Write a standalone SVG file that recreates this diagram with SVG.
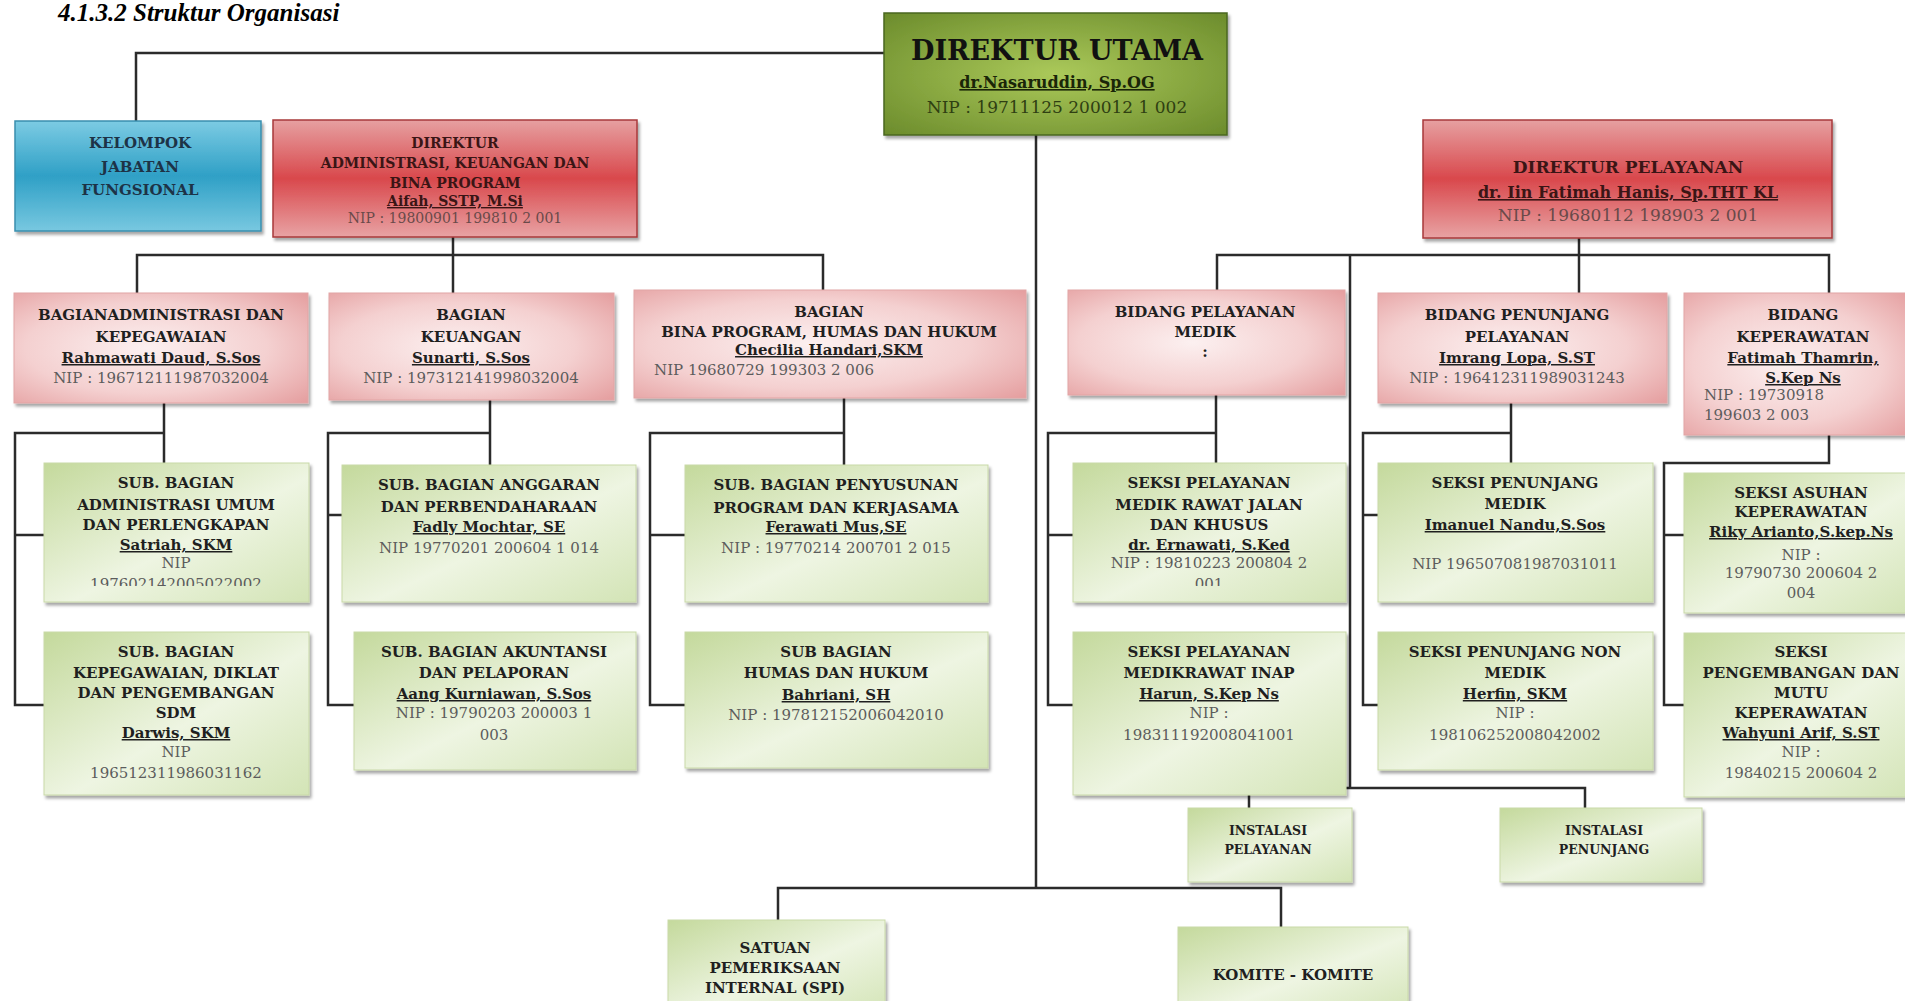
<svg xmlns="http://www.w3.org/2000/svg" width="1905" height="1001" viewBox="0 0 1905 1001">
<defs>
<style>
.t{font-family:"DejaVu Serif",serif;font-weight:bold;font-size:15px;fill:#1f1f1f;text-anchor:middle}
.u{text-decoration:underline}
.nip{font-family:"DejaVu Serif",serif;font-size:15px;fill:#5c5c5c;text-anchor:middle}
.l{text-anchor:start}
.sm{font-size:12.5px}
.ln{fill:none;stroke:#2b2b2b;stroke-width:2.5}
.blue{fill:url(#gBlue);stroke:#3a8fae;stroke-width:1.5}
.red{fill:url(#gRed);stroke:#a8383b;stroke-width:1.5}
.pink{fill:url(#gPink);stroke:#e2a5a5;stroke-width:1}
.green{fill:url(#gGreen);stroke:#c9d9a8;stroke-width:1}
.utama{fill:url(#gUtama);stroke:#4a6720;stroke-width:1.5}
</style>
<filter id="sh" x="-5%" y="-5%" width="112%" height="120%">
<feDropShadow dx="2" dy="3" stdDeviation="1.5" flood-color="#000" flood-opacity="0.35"/>
</filter>
<linearGradient id="gBlue" x1="0" y1="0" x2="0" y2="1">
<stop offset="0" stop-color="#7ccbe3"/><stop offset="0.5" stop-color="#2fa0c6"/><stop offset="1" stop-color="#78c8e0"/>
</linearGradient>
<linearGradient id="gRed" x1="0" y1="0" x2="0" y2="1">
<stop offset="0" stop-color="#e6a0a1"/><stop offset="0.5" stop-color="#d9484c"/><stop offset="1" stop-color="#e8a3a4"/>
</linearGradient>
<radialGradient id="gPink" cx="0.45" cy="0.5" r="0.75">
<stop offset="0" stop-color="#fcf0f0"/><stop offset="0.55" stop-color="#f4d0d0"/><stop offset="1" stop-color="#e49c9d"/>
</radialGradient>
<linearGradient id="gGreen" x1="0" y1="0" x2="1" y2="1">
<stop offset="0" stop-color="#c4d99c"/><stop offset="0.55" stop-color="#eef5e2"/><stop offset="1" stop-color="#d3e4b6"/>
</linearGradient>
<radialGradient id="gUtama" cx="0.5" cy="0.5" r="0.7">
<stop offset="0" stop-color="#abc95a"/><stop offset="1" stop-color="#6c8c2c"/>
</radialGradient>
<clipPath id="c1"><rect x="44" y="440" width="265" height="146"/></clipPath>
<clipPath id="c2"><rect x="1073" y="440" width="273" height="146"/></clipPath>
</defs>
<rect width="1905" height="1001" fill="#fff"/>
<text x="58" y="21" style="font-family:'Liberation Serif',serif;font-weight:bold;font-style:italic;font-size:25px;fill:#000">4.1.3.2 Struktur Organisasi</text>

<g id="connectors" class="ln">
<path d="M136,121 V53 H884"/>
<path d="M1036,135 V888"/>
<path d="M778,920 V888 H1281 V927"/>
<path d="M453,237 V293"/>
<path d="M137,293 V255 H823 V290"/>
<path d="M164,403 V463 M164,433 H15 V705 H44 M15,535 H44"/>
<path d="M490,400 V465 M490,433 H328 V705 H354 M328,515 H342"/>
<path d="M844,398 V465 M844,433 H650 V705 H685 M650,535 H685"/>
<path d="M1217,290 V255 H1829 V293"/>
<path d="M1579,238 V293"/>
<path d="M1350,255 V788"/>
<path d="M1216,395 V463 M1216,433 H1048 V705 H1073 M1048,535 H1073"/>
<path d="M1511,403 V463 M1511,433 H1363 V705 H1378 M1363,515 H1378"/>
<path d="M1829,435 V463 H1664 V705 H1684 M1664,535 H1684"/>
<path d="M1249,808 V788 H1585 V808"/>
</g>

<g id="utama"><rect class="utama" filter="url(#sh)" x="884" y="13" width="343" height="122"/>
<text class="t" x="1057" y="60" style="font-size:27px;fill:#111">DIREKTUR UTAMA</text>
<text class="t u" x="1057" y="88" style="font-size:16px;fill:#1a2508">dr.Nasaruddin, Sp.OG</text>
<text class="nip" x="1057" y="113" style="font-size:17px;fill:#2f3f12">NIP : 19711125 200012 1 002</text></g>

<g id="kelompok"><rect class="blue" filter="url(#sh)" x="15" y="121" width="246" height="110"/>
<text class="t" x="140" y="148" style="fill:#1d3347">KELOMPOK</text>
<text class="t" x="140" y="172" style="fill:#1d3347">JABATAN</text>
<text class="t" x="140" y="195" style="fill:#1d3347">FUNGSIONAL</text></g>

<g id="dir-admin"><rect class="red" filter="url(#sh)" x="273" y="120" width="364" height="117"/>
<text class="t" x="455" y="148" style="font-size:14px;fill:#3a1515">DIREKTUR</text>
<text class="t" x="455" y="168" style="font-size:14px;fill:#3a1515">ADMINISTRASI, KEUANGAN DAN</text>
<text class="t" x="455" y="188" style="font-size:14px;fill:#3a1515">BINA PROGRAM</text>
<text class="t u" x="455" y="206" style="font-size:14px;fill:#3a1515">Aifah, SSTP, M.Si</text>
<text class="nip" x="455" y="223" style="font-size:14px;fill:#6a4a4a">NIP : 19800901 199810 2 001</text></g>

<g id="dir-pelayanan"><rect class="red" filter="url(#sh)" x="1423" y="120" width="409" height="118"/>
<text class="t" x="1628" y="173" style="font-size:17px;fill:#3a1515">DIREKTUR PELAYANAN</text>
<text class="t u" x="1628" y="198" style="font-size:16px;fill:#3a1515">dr. Iin Fatimah Hanis, Sp.THT KL</text>
<text class="nip" x="1628" y="221" style="font-size:17px;fill:#6a4a4a">NIP : 19680112 198903 2 001</text></g>

<g id="bag-admin"><rect class="pink" filter="url(#sh)" x="14" y="293" width="294" height="110"/>
<text class="t" x="161" y="320">BAGIANADMINISTRASI DAN</text>
<text class="t" x="161" y="342">KEPEGAWAIAN</text>
<text class="t u" x="161" y="363">Rahmawati Daud, S.Sos</text>
<text class="nip" x="161" y="383">NIP : 196712111987032004</text></g>

<g id="bag-keuangan"><rect class="pink" filter="url(#sh)" x="329" y="293" width="285" height="107"/>
<text class="t" x="471" y="320">BAGIAN</text>
<text class="t" x="471" y="342">KEUANGAN</text>
<text class="t u" x="471" y="363">Sunarti, S.Sos</text>
<text class="nip" x="471" y="383">NIP : 197312141998032004</text></g>

<g id="bag-bina"><rect class="pink" filter="url(#sh)" x="634" y="290" width="392" height="108"/>
<text class="t" x="829" y="317">BAGIAN</text>
<text class="t" x="829" y="337">BINA PROGRAM, HUMAS DAN HUKUM</text>
<text class="t u" x="829" y="355">Checilia Handari,SKM</text>
<text class="nip l" x="654" y="375">NIP 19680729 199303 2 006</text></g>

<g id="bid-medik"><rect class="pink" filter="url(#sh)" x="1068" y="290" width="277" height="105"/>
<text class="t" x="1205" y="317">BIDANG PELAYANAN</text>
<text class="t" x="1205" y="337">MEDIK</text>
<text class="t" x="1205" y="357">:</text></g>

<g id="bid-penunjang"><rect class="pink" filter="url(#sh)" x="1378" y="293" width="289" height="110"/>
<text class="t" x="1517" y="320">BIDANG PENUNJANG</text>
<text class="t" x="1517" y="342">PELAYANAN</text>
<text class="t u" x="1517" y="363">Imrang Lopa, S.ST</text>
<text class="nip" x="1517" y="383">NIP : 196412311989031243</text></g>

<g id="bid-keperawatan"><rect class="pink" filter="url(#sh)" x="1684" y="293" width="230" height="142"/>
<text class="t" x="1803" y="320">BIDANG</text>
<text class="t" x="1803" y="342">KEPERAWATAN</text>
<text class="t u" x="1803" y="363">Fatimah Thamrin,</text>
<text class="t u" x="1803" y="383">S.Kep Ns</text>
<text class="nip l" x="1704" y="400">NIP : 19730918</text>
<text class="nip l" x="1704" y="420">199603 2 003</text></g>

<g id="sub-umum"><rect class="green" filter="url(#sh)" x="44" y="463" width="265" height="139"/>
<text class="t" x="176" y="488">SUB. BAGIAN</text>
<text class="t" x="176" y="510">ADMINISTRASI UMUM</text>
<text class="t" x="176" y="530">DAN PERLENGKAPAN</text>
<text class="t u" x="176" y="550">Satriah, SKM</text>
<text class="nip" x="176" y="568">NIP</text>
<text class="nip" x="176" y="589" clip-path="url(#c1)">197602142005022002</text></g>

<g id="sub-kepegawaian"><rect class="green" filter="url(#sh)" x="44" y="632" width="265" height="163"/>
<text class="t" x="176" y="657">SUB. BAGIAN</text>
<text class="t" x="176" y="678">KEPEGAWAIAN, DIKLAT</text>
<text class="t" x="176" y="698">DAN PENGEMBANGAN</text>
<text class="t" x="176" y="718">SDM</text>
<text class="t u" x="176" y="738">Darwis, SKM</text>
<text class="nip" x="176" y="757">NIP</text>
<text class="nip" x="176" y="778">196512311986031162</text></g>

<g id="sub-anggaran"><rect class="green" filter="url(#sh)" x="342" y="465" width="294" height="137"/>
<text class="t" x="489" y="490">SUB. BAGIAN ANGGARAN</text>
<text class="t" x="489" y="512">DAN PERBENDAHARAAN</text>
<text class="t u" x="489" y="532">Fadly Mochtar, SE</text>
<text class="nip" x="489" y="553">NIP 19770201 200604 1 014</text></g>

<g id="sub-akuntansi"><rect class="green" filter="url(#sh)" x="354" y="632" width="282" height="138"/>
<text class="t" x="494" y="657">SUB. BAGIAN AKUNTANSI</text>
<text class="t" x="494" y="678">DAN PELAPORAN</text>
<text class="t u" x="494" y="699">Aang Kurniawan, S.Sos</text>
<text class="nip" x="494" y="718">NIP : 19790203 200003 1</text>
<text class="nip" x="494" y="740">003</text></g>

<g id="sub-penyusunan"><rect class="green" filter="url(#sh)" x="685" y="465" width="303" height="137"/>
<text class="t" x="836" y="490">SUB. BAGIAN PENYUSUNAN</text>
<text class="t" x="836" y="513">PROGRAM DAN KERJASAMA</text>
<text class="t u" x="836" y="532">Ferawati Mus,SE</text>
<text class="nip" x="836" y="553">NIP : 19770214 200701 2 015</text></g>

<g id="sub-humas"><rect class="green" filter="url(#sh)" x="685" y="632" width="303" height="136"/>
<text class="t" x="836" y="657">SUB BAGIAN</text>
<text class="t" x="836" y="678">HUMAS DAN HUKUM</text>
<text class="t u" x="836" y="700">Bahriani, SH</text>
<text class="nip" x="836" y="720">NIP : 197812152006042010</text></g>

<g id="seksi-rawat-jalan"><rect class="green" filter="url(#sh)" x="1073" y="463" width="273" height="139"/>
<text class="t" x="1209" y="488">SEKSI PELAYANAN</text>
<text class="t" x="1209" y="510">MEDIK RAWAT JALAN</text>
<text class="t" x="1209" y="530">DAN KHUSUS</text>
<text class="t u" x="1209" y="550">dr. Ernawati, S.Ked</text>
<text class="nip" x="1209" y="568">NIP : 19810223 200804 2</text>
<text class="nip" x="1209" y="589" clip-path="url(#c2)">001</text></g>

<g id="seksi-rawat-inap"><rect class="green" filter="url(#sh)" x="1073" y="632" width="273" height="163"/>
<text class="t" x="1209" y="657">SEKSI PELAYANAN</text>
<text class="t" x="1209" y="678">MEDIKRAWAT INAP</text>
<text class="t u" x="1209" y="699">Harun, S.Kep Ns</text>
<text class="nip" x="1209" y="718">NIP :</text>
<text class="nip" x="1209" y="740">198311192008041001</text></g>

<g id="seksi-penunjang-medik"><rect class="green" filter="url(#sh)" x="1378" y="463" width="275" height="139"/>
<text class="t" x="1515" y="488">SEKSI PENUNJANG</text>
<text class="t" x="1515" y="509">MEDIK</text>
<text class="t u" x="1515" y="530">Imanuel Nandu,S.Sos</text>
<text class="nip" x="1515" y="569">NIP 196507081987031011</text></g>

<g id="seksi-penunjang-non-medik"><rect class="green" filter="url(#sh)" x="1378" y="632" width="275" height="138"/>
<text class="t" x="1515" y="657">SEKSI PENUNJANG NON</text>
<text class="t" x="1515" y="678">MEDIK</text>
<text class="t u" x="1515" y="699">Herfin, SKM</text>
<text class="nip" x="1515" y="718">NIP :</text>
<text class="nip" x="1515" y="740">198106252008042002</text></g>

<g id="seksi-asuhan"><rect class="green" filter="url(#sh)" x="1684" y="473" width="230" height="140"/>
<text class="t" x="1801" y="498">SEKSI ASUHAN</text>
<text class="t" x="1801" y="517">KEPERAWATAN</text>
<text class="t u" x="1801" y="537">Riky Arianto,S.kep.Ns</text>
<text class="nip" x="1801" y="560">NIP :</text>
<text class="nip" x="1801" y="578">19790730 200604 2</text>
<text class="nip" x="1801" y="598">004</text></g>

<g id="seksi-pengembangan"><rect class="green" filter="url(#sh)" x="1684" y="633" width="230" height="164"/>
<text class="t" x="1801" y="657">SEKSI</text>
<text class="t" x="1801" y="678">PENGEMBANGAN DAN</text>
<text class="t" x="1801" y="698">MUTU</text>
<text class="t" x="1801" y="718">KEPERAWATAN</text>
<text class="t u" x="1801" y="738">Wahyuni Arif, S.ST</text>
<text class="nip" x="1801" y="757">NIP :</text>
<text class="nip" x="1801" y="778">19840215 200604 2</text></g>

<g id="instalasi-pelayanan"><rect class="green" filter="url(#sh)" x="1188" y="808" width="164" height="74"/>
<text class="t sm" x="1268" y="835">INSTALASI</text>
<text class="t sm" x="1268" y="854">PELAYANAN</text></g>

<g id="instalasi-penunjang"><rect class="green" filter="url(#sh)" x="1500" y="808" width="202" height="74"/>
<text class="t sm" x="1604" y="835">INSTALASI</text>
<text class="t sm" x="1604" y="854">PENUNJANG</text></g>

<g id="spi"><rect class="green" filter="url(#sh)" x="668" y="920" width="217" height="95"/>
<text class="t" x="775" y="953">SATUAN</text>
<text class="t" x="775" y="973">PEMERIKSAAN</text>
<text class="t" x="775" y="993">INTERNAL (SPI)</text></g>

<g id="komite"><rect class="green" filter="url(#sh)" x="1178" y="927" width="230" height="90"/>
<text class="t" x="1293" y="980">KOMITE - KOMITE</text></g>
</svg>
